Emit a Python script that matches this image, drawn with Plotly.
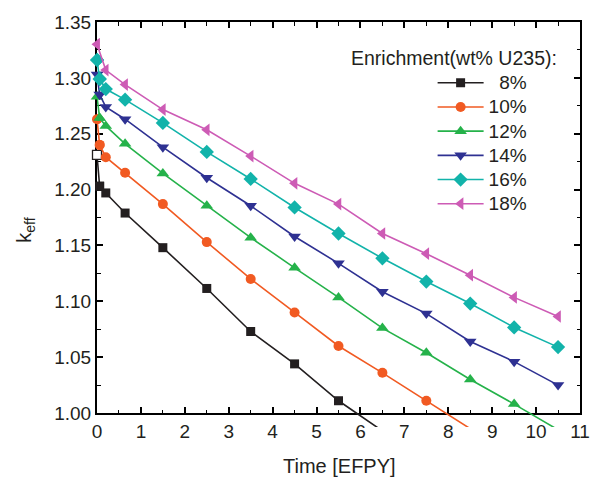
import plotly.graph_objects as go

# ---------------- data ----------------
time = [0, 0.06, 0.2, 0.64, 1.5, 2.5, 3.5, 4.5, 5.5, 6.5, 7.5, 8.5, 9.5, 10.5]
time_18 = [0, 0.2, 0.64, 1.5, 2.5, 3.5, 4.5, 5.5, 6.5, 7.5, 8.5, 9.5, 10.5]

keff_8 = [1.231, 1.203, 1.197, 1.179, 1.148, 1.1115, 1.073, 1.044, 1.011, 0.984]
keff_10 = [1.263, 1.240, 1.229, 1.215, 1.187, 1.153, 1.120, 1.090, 1.060, 1.036, 1.011, 0.986]
keff_12 = [1.283, 1.264, 1.257, 1.241, 1.2145, 1.1855, 1.157, 1.130, 1.1035, 1.076, 1.054, 1.030, 1.008, 0.985]
keff_14 = [1.303, 1.285, 1.274, 1.263, 1.238, 1.2106, 1.1855, 1.158, 1.134, 1.1086, 1.089, 1.064, 1.046, 1.025]
keff_16 = [1.316, 1.299, 1.290, 1.2805, 1.2597, 1.2337, 1.2095, 1.184, 1.1607, 1.1385, 1.1177, 1.098, 1.0766, 1.059]
keff_18 = [1.330, 1.307, 1.294, 1.2716, 1.2535, 1.230, 1.2056, 1.187, 1.1607, 1.1426, 1.1234, 1.1035, 1.0864]

labels = ["\u00a0\u00a08%", "10%", "12%", "14%", "16%", "18%"]
legend_title = "Enrichment(wt% U235):"
x_ticks = list(range(0, 12))
y_ticks = [1.00, 1.05, 1.10, 1.15, 1.20, 1.25, 1.30, 1.35]

# ---------------- style ----------------
colors = ["#231F20", "#F15A22", "#25B24A", "#2E3192", "#12B3AA", "#CD5BB5"]
symbols = ["square", "circle", "triangle-up", "triangle-down", "diamond", "triangle-left"]
msizes = [9, 10, 11, 11, 11, 11]
FONT = "Arial, Liberation Sans, Helvetica, sans-serif"
TXT = "#231F20"

W, H = 602, 479
L, R, T, B = 97, 20, 19, 52
Y_VIS0, Y1 = 1.0, 1.35
Y_CLIP = 0.9875
frac = (Y_VIS0 - Y_CLIP) / (Y1 - Y_CLIP)


def pxx(px):
    return (px - L) / (W - L - R)


def pxy(py):
    return (H - B - py) / (H - T - B)


series = [
    (time, keff_8), (time, keff_10), (time, keff_12),
    (time, keff_14), (time, keff_16), (time_18, keff_18),
]

fig = go.Figure()
# dummy trace for the visible frame subplot
fig.add_trace(go.Scatter(x=[None], y=[None], xaxis="x", yaxis="y", showlegend=False,
                         hoverinfo="skip"))

for i, ((t, k), lab) in enumerate(zip(series, labels)):
    n = len(k)
    tt = t[:n]
    fig.add_trace(go.Scatter(
        x=tt, y=k, xaxis="x2", yaxis="y2", mode="lines+markers",
        name='<span style="font-size:19px">%s</span>' % lab,
        line=dict(color=colors[i], width=1.6),
        marker=dict(symbol=symbols[i], size=msizes[i], color=colors[i], line=dict(width=0)),
        cliponaxis=True,
    ))
    # markers near the y axis drawn unclipped
    idx = [j for j in range(n) if tt[j] < 0.15]
    mcol = ["white" if (i == 0 and j == 0) else colors[i] for j in idx]
    mlw = [1.3 if (i == 0 and j == 0) else 0 for j in idx]
    fig.add_trace(go.Scatter(
        x=[tt[j] for j in idx], y=[k[j] for j in idx], xaxis="x2", yaxis="y2",
        mode="markers", showlegend=False, cliponaxis=False,
        marker=dict(symbol=symbols[i], size=msizes[i], color=mcol,
                    line=dict(width=mlw, color=colors[i])),
    ))

axis_common = dict(
    showline=True, linewidth=2, linecolor="black", mirror="ticks",
    ticks="inside", ticklen=6, tickwidth=1.5, tickcolor="black",
    showgrid=False, zeroline=False,
    tickfont=dict(family=FONT, size=19, color=TXT),
)

fig.update_layout(
    width=W, height=H,
    margin=dict(l=L, r=R, t=T, b=B, pad=0),
    paper_bgcolor="white", plot_bgcolor="rgba(0,0,0,0)",
    font=dict(family=FONT, color=TXT),
    xaxis=dict(range=[0, 11], domain=[0, 1], anchor="y", tickmode="array",
               tickvals=x_ticks, ticktext=[str(v) for v in x_ticks],
               minor=dict(ticks="inside", ticklen=3.5, tickwidth=1.2, dtick=0.5,
                          tickcolor="black", showgrid=False),
               **axis_common),
    yaxis=dict(range=[Y_VIS0, Y1], domain=[frac, 1], anchor="x", tickmode="array",
               tickvals=y_ticks, ticktext=["%.2f" % v for v in y_ticks],
               minor=dict(ticks="inside", ticklen=3.5, tickwidth=1.2, dtick=0.025,
                          tickcolor="black", showgrid=False),
               **axis_common),
    xaxis2=dict(range=[0, 11], domain=[0, 1], anchor="y2", visible=False),
    yaxis2=dict(range=[Y_CLIP, Y1], domain=[0, 1], anchor="x2", visible=False),
    showlegend=True,
    legend=dict(
        x=pxx(434), y=pxy(63), xanchor="left", yanchor="top",
        bgcolor="rgba(0,0,0,0)", borderwidth=0,
        font=dict(family=FONT, size=16.3, color=TXT),
        itemwidth=46, tracegroupgap=0,
    ),
    annotations=[
        dict(text=legend_title, xref="paper", yref="paper", x=pxx(455), y=pxy(55),
             xanchor="center", yanchor="middle", showarrow=False,
             font=dict(family=FONT, size=19.5, color=TXT)),
        dict(text="Time [EFPY]", xref="paper", yref="paper", x=pxx(341), y=pxy(466),
             xanchor="center", yanchor="middle", showarrow=False,
             font=dict(family=FONT, size=20, color=TXT)),
        dict(text="k<sub>eff</sub>", xref="paper", yref="paper", x=pxx(25), y=pxy(229),
             xanchor="center", yanchor="middle", showarrow=False, textangle=-90,
             font=dict(family=FONT, size=20, color=TXT)),
    ],
)

fig.write_html("out.html")
